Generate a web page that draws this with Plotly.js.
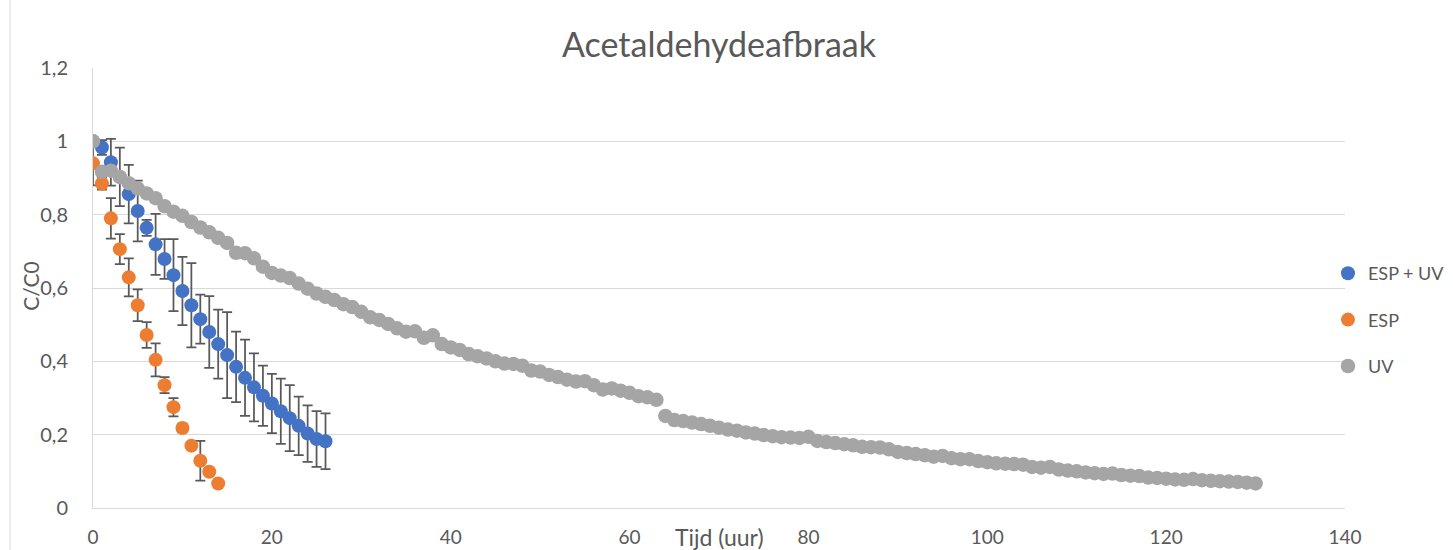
<!DOCTYPE html>
<html>
<head>
<meta charset="utf-8">
<script src="https://cdn.plot.ly/plotly-3.0.1.min.js"></script>
<style>html,body{margin:0;padding:0;background:#fff;}#chart{width:1453px;height:550px;}</style>
</head>
<body>
<div id="chart"></div>
<script>
// ---- data ----
const espUvTime = [0,1,2,3,4,5,6,7,8,9,10,11,12,13,14,15,16,17,18,19,20,21,22,23,24,25,26];
const espUvValue = [1.0,0.983,0.943,0.903,0.856,0.81,0.764,0.719,0.679,0.635,0.592,0.553,0.515,0.48,0.447,0.417,0.385,0.355,0.329,0.306,0.285,0.264,0.245,0.224,0.203,0.188,0.182];
const espUvError = [0,0.02,0.064,0.08,0.08,0.083,0.022,0.083,0.054,0.098,0.093,0.115,0.067,0.098,0.094,0.117,0.096,0.104,0.093,0.082,0.081,0.089,0.09,0.08,0.077,0.076,0.076];

const espTime = [0,1,2,3,4,5,6,7,8,9,10,11,12,13,14];
const espValue = [0.94,0.885,0.79,0.706,0.629,0.553,0.472,0.404,0.335,0.275,0.218,0.17,0.129,0.099,0.067];
const espError = [0.06,0.017,0.055,0.041,0.052,0.043,0.035,0.045,0.022,0.025,0.012,0.01,0.054,0,0];

const uvTime = [0,1,2,3,4,5,6,7,8,9,10,11,12,13,14,15,16,17,18,19,20,21,22,23,24,25,26,27,28,29,30,31,32,33,34,35,36,37,38,39,40,41,42,43,44,45,46,47,48,49,50,51,52,53,54,55,56,57,58,59,60,61,62,63,64,65,66,67,68,69,70,71,72,73,74,75,76,77,78,79,80,81,82,83,84,85,86,87,88,89,90,91,92,93,94,95,96,97,98,99,100,101,102,103,104,105,106,107,108,109,110,111,112,113,114,115,116,117,118,119,120,121,122,123,124,125,126,127,128,129,130];
const uvValue = [1.0,0.917,0.92,0.903,0.886,0.872,0.858,0.845,0.823,0.808,0.797,0.78,0.765,0.752,0.737,0.723,0.696,0.695,0.681,0.658,0.641,0.634,0.627,0.612,0.598,0.585,0.576,0.567,0.556,0.548,0.535,0.52,0.513,0.502,0.49,0.481,0.482,0.464,0.471,0.447,0.438,0.431,0.42,0.414,0.408,0.4,0.394,0.393,0.388,0.375,0.372,0.363,0.357,0.35,0.345,0.346,0.335,0.323,0.326,0.32,0.314,0.305,0.302,0.295,
0.251,0.24,0.237,0.233,0.229,0.224,0.219,0.214,0.211,0.206,0.203,0.199,0.196,0.193,0.192,0.191,0.194,0.183,0.18,0.177,0.174,0.171,0.167,0.166,0.165,0.16,0.153,0.15,0.147,0.144,0.14,0.142,0.136,0.133,0.133,0.128,0.125,0.122,0.121,0.12,0.118,0.112,0.11,0.112,0.105,0.102,0.1,0.097,0.095,0.093,0.094,0.09,0.088,0.087,0.083,0.082,0.08,0.078,0.077,0.079,0.076,0.074,0.073,0.072,0.071,0.069,0.067];

const seriesNames = ['ESP + UV','ESP','UV'];
const chartTitle = 'Acetaldehydeafbraak';
const xTitle = 'Tijd (uur)';
const yTitle = 'C/C0';

const FONT = 'Lato, "Open Sans", sans-serif';
const TXT = '#595959';

const errStyle = {type:'data', visible:true, color:'#595959', thickness:1.75, width:5};

const traces = [
  {x:espUvTime, y:espUvValue, name:seriesNames[0], type:'scatter', mode:'markers', legendgroup:'a',
   marker:{color:'#4472C4', size:14}, error_y:Object.assign({array:espUvError}, errStyle)},
  {x:espTime, y:espValue, name:seriesNames[1], type:'scatter', mode:'markers', legendgroup:'b',
   marker:{color:'#ED7D31', size:14}, error_y:Object.assign({array:espError}, errStyle)},
  {x:uvTime, y:uvValue, name:seriesNames[2], type:'scatter', mode:'markers', legendgroup:'c',
   marker:{color:'#A5A5A5', size:14.5}}
];

const layout = {
  width:1453, height:550,
  margin:{l:93, r:108, t:68, b:42, pad:0, autoexpand:false},
  paper_bgcolor:'#fff', plot_bgcolor:'#fff',
  separators:',.',
  font:{family:FONT, color:TXT, size:18},
  title:{text:chartTitle, x:0.5, xref:'paper', y:0.918, yref:'container', yanchor:'middle', font:{family:FONT, size:34, color:TXT}},
  xaxis:{range:[0,140], dtick:20, tick0:0, showgrid:false, zeroline:false, showline:true, linecolor:'#d9d9d9', linewidth:1,
         ticks:'outside', ticklen:12, tickcolor:'rgba(0,0,0,0)', tickfont:{family:FONT, size:19, color:TXT}, fixedrange:true},
  yaxis:{range:[0,1.2], dtick:0.2, tick0:0, showgrid:true, gridcolor:'#d9d9d9', gridwidth:1, zeroline:false, showline:true, linecolor:'#d9d9d9', linewidth:1,
         ticks:'outside', ticklen:20, tickcolor:'rgba(0,0,0,0)', tickfont:{family:FONT, size:20, color:TXT}, fixedrange:true},
  showlegend:true,
  legend:{x:0.9864, xanchor:'left', y:0.575, yanchor:'top', tracegroupgap:20, font:{family:FONT, size:18, color:TXT}, bgcolor:'rgba(0,0,0,0)', itemclick:false},
  annotations:[
    {text:xTitle, xref:'paper', yref:'paper', x:0.5, y:-0.066, xanchor:'center', yanchor:'middle', showarrow:false, font:{family:FONT, size:23, color:TXT}},
    {text:yTitle, xref:'paper', yref:'paper', x:-0.0495, y:0.505, xanchor:'center', yanchor:'middle', textangle:-90, showarrow:false, font:{family:FONT, size:21, color:TXT}}
  ],
  shapes:[{type:'line', xref:'paper', yref:'paper', x0:-0.0663, x1:-0.0663, y0:-0.2, y1:1.3, line:{color:'#d9d9d9', width:1}}]
};

Plotly.newPlot('chart', traces, layout, {staticPlot:true, displayModeBar:false});
</script>
</body>
</html>
